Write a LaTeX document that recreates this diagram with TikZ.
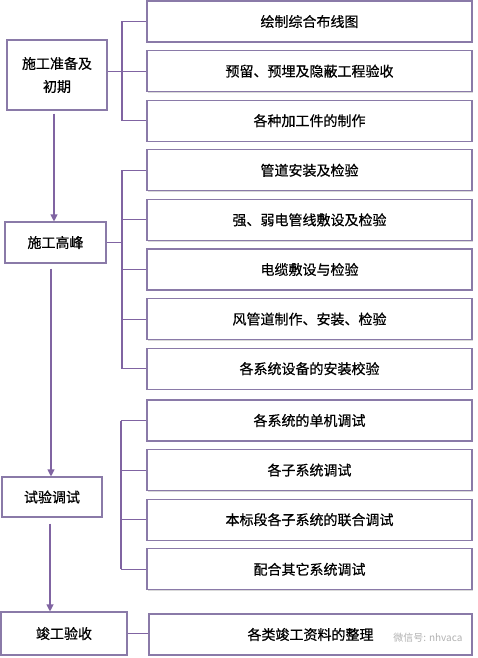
\documentclass[tikz,border=0pt]{standalone}
\usepackage{fontspec}
\newfontfamily\cjk[FakeBold=0.6]{Noto Sans CJK SC}
\newfontfamily\cjklight{Noto Sans CJK SC}
\usetikzlibrary{arrows.meta,positioning,shadows}
\definecolor{linkviolet}{RGB}{128,100,162}
\definecolor{boxedge}{RGB}{138,122,168}

\begin{document}
\begin{tikzpicture}[x=1pt, y=-1pt, font=\cjk\fontsize{14}{23}\selectfont, align=center,
  phase/.style={draw=boxedge, line width=1.1pt, fill=white, inner sep=0pt,
    drop shadow={shadow xshift=1pt, shadow yshift=-1.2pt, fill=black!25, opacity=0.6}},
  task/.style={phase, minimum width=325pt, minimum height=41pt},
  link/.style={draw=linkviolet, line width=1.1pt},
  flow/.style={link, -{Triangle[width=7pt,length=7pt]}, shorten <=3pt}]
\useasboundingbox (0,0) rectangle (477,658);

\node[phase, minimum width=100pt, minimum height=70pt] (prep) at (57,75) {施工准备及\\初期};
\node[phase, minimum width=101pt, minimum height=41pt] (peak) at (55.5,242.5) {施工高峰};
\node[phase, minimum width=100pt, minimum height=40pt] (test) at (52,497) {试验调试};
\node[phase, minimum width=126pt, minimum height=43pt] (done) at (64,633.5) {竣工验收};

\node[task] (plan) at (309.5,21.5) {绘制综合布线图};
\node[task, below=7.5pt of plan] (embed) {预留、预埋及隐蔽工程验收};
\node[task, below=7.5pt of embed] (parts) {各种加工件的制作};
\node[task, below=7.5pt of parts] (pipe) {管道安装及检验};
\node[task, below=7.5pt of pipe] (wire) {强、弱电管线敷设及检验};
\node[task, below=7.5pt of wire] (cable) {电缆敷设与检验};
\node[task, below=7.5pt of cable] (duct) {风管道制作、安装、检验};
\node[task, below=7.5pt of duct] (equip) {各系统设备的安装校验};
\node[task] (unit) at (309.5,420.5) {各系统的单机调试};
\node[task, below=7.5pt of unit] (sub) {各子系统调试};
\node[task, below=7.5pt of sub] (joint) {本标段各子系统的联合调试};
\node[task, below=7.5pt of joint] (other) {配合其它系统调试};
\node[task, minimum width=323pt] (docs) at (310.5,634.5) {各类竣工资料的整理};

\node[text=black!30, font=\cjklight\fontsize{10}{12}\selectfont, anchor=east] (mark) at (466,638) {微信号: nhvaca};

\coordinate (bar1) at (122,0);
\coordinate (bar2) at (122,0);
\coordinate (bar3) at (121,0);

\draw[flow] ([xshift=-3pt]prep.south) -- ([xshift=-3pt]prep.south |- peak.north);
\draw[flow, shorten <=5pt] ([xshift=-4.5pt]peak.south) -- ([xshift=-4.5pt]peak.south |- test.north);
\draw[flow, shorten <=6pt] ([xshift=-2pt]test.south) -- ([xshift=-2pt]test.south |- done.north);

\draw[link] (embed.west -| prep.east) -- (embed.west -| bar1);
\draw[link] (plan.west -| bar1) -- (parts.west -| bar1);
\foreach \n in {plan,embed,parts}
  \draw[link] (\n.west -| bar1) -- (\n.west);

\draw[link] (peak.east) -- (peak.east -| bar2);
\draw[link] (pipe.west -| bar2) -- (equip.west -| bar2);
\foreach \n in {pipe,wire,cable,duct,equip}
  \draw[link] (\n.west -| bar2) -- (\n.west);

\draw[link] (unit.west -| bar3) -- (other.west -| bar3);
\foreach \n in {unit,sub,joint,other}
  \draw[link] (\n.west -| bar3) -- (\n.west);

\draw[link] (done.east) -- (done.east -| docs.west);
\end{tikzpicture}
\end{document}
